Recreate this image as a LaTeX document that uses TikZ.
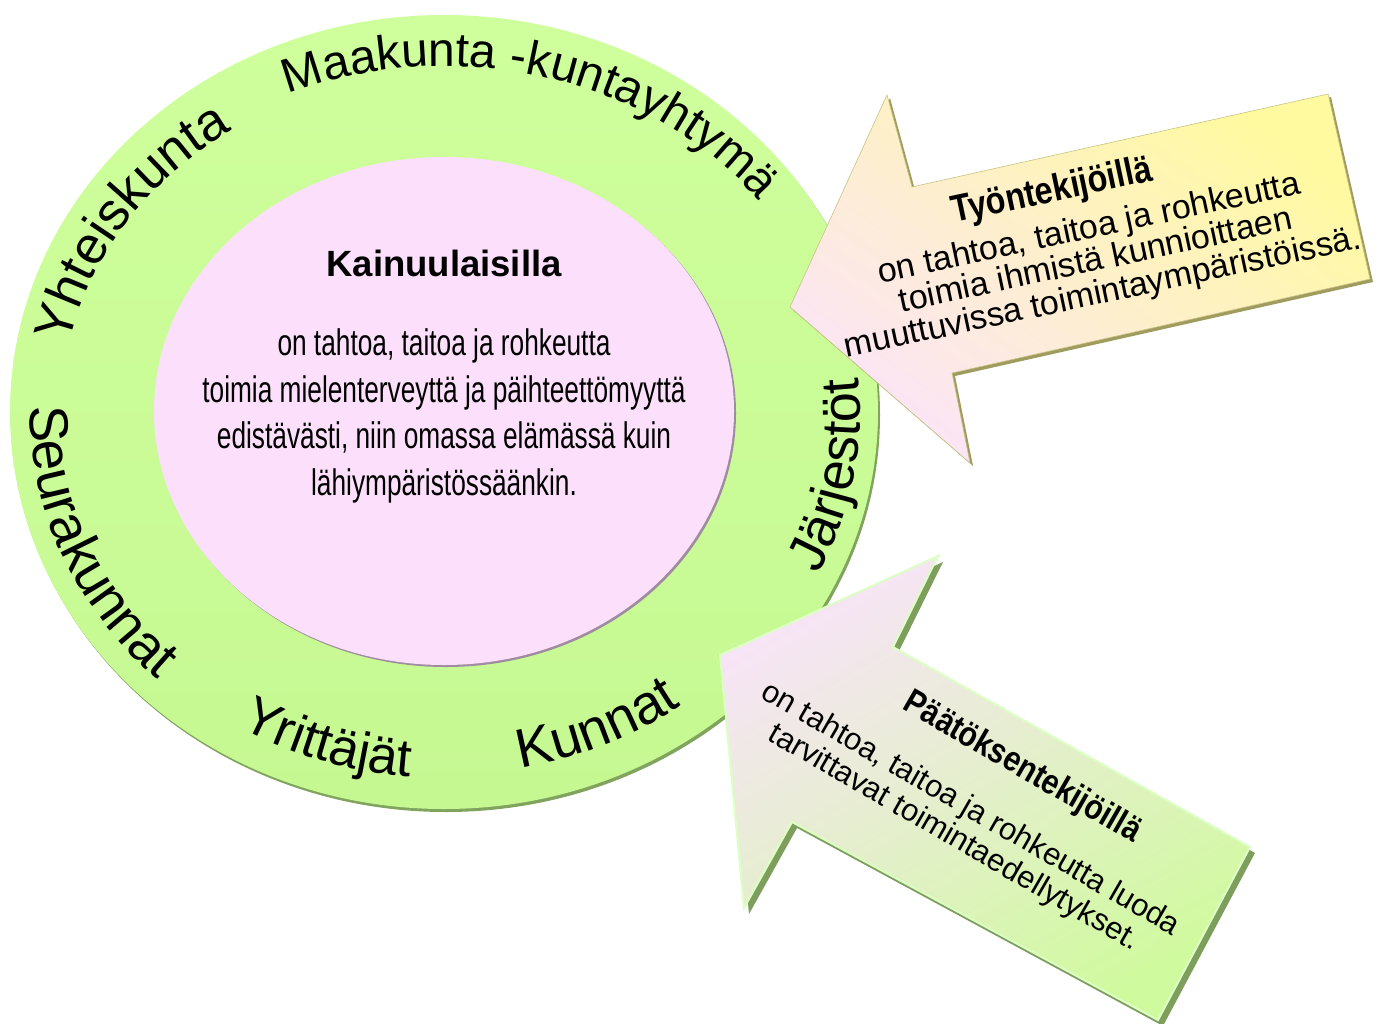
\documentclass[tikz,border=0pt]{standalone}
\usepackage{fontspec}
\setmainfont{Liberation Sans}
\newfontfamily\narrowfont{Liberation Sans}[FakeStretch=0.71]
\newfontfamily\condfont{Liberation Sans}[FakeStretch=0.85]
\usetikzlibrary{decorations.text}
\definecolor{ringtop}{RGB}{206,255,156}
\definecolor{ringbot}{RGB}{198,248,146}
\definecolor{ringshadow}{RGB}{128,163,94}
\definecolor{innerpink}{RGB}{252,224,251}
\definecolor{pinkshadow}{RGB}{160,140,160}
\definecolor{tyellow}{RGB}{255,250,160}
\definecolor{tpeach}{RGB}{253,236,214}
\definecolor{tpink}{RGB}{252,228,248}
\definecolor{tshadow}{RGB}{160,156,96}
\definecolor{tedge}{RGB}{200,196,130}
\definecolor{bpink}{RGB}{247,228,246}
\definecolor{bgreen}{RGB}{208,250,158}
\definecolor{bshadow}{RGB}{126,158,94}
\definecolor{bhl}{RGB}{220,255,196}
\newcommand\ringfont[1]{\fontsize{#1}{#1}\selectfont}
\tikzset{
  ringword/.style 2 args={decorate, decoration={text along path, text align=center, text={|\ringfont{#1}|#2}}},
  innerbody/.style={font=\narrowfont\fontsize{37}{46.5}\selectfont, align=center, inner sep=0},
  arrowbody/.style={font=\fontsize{34}{33}\selectfont, align=center, inner sep=0},
  arrowtitle/.style={font=\condfont\bfseries\fontsize{35}{38}\selectfont, inner sep=0},
}
\begin{document}
\begin{tikzpicture}[x=1pt,y=1pt]
\clip (0,0) rectangle (1381,-1023);
\fill[white] (0,0) rectangle (1381,-1023);

% outer ring
\fill[ringshadow] (446,-415) ellipse[x radius=434, y radius=397];
\shade[top color=ringtop, bottom color=ringbot] (444,-412) ellipse[x radius=434, y radius=397];
% inner ellipse
\fill[pinkshadow] (446,-413) ellipse[x radius=290, y radius=254];
\fill[innerpink] (444,-411) ellipse[x radius=290, y radius=254];

% ring words (clockwise on top, counter-clockwise at bottom)
\path[ringword={48}{Maakunta -kuntayhtymä}] (444,-412) ++(123:398 and 346)
  arc[start angle=123, end angle=27, x radius=398, y radius=346];
\path[ringword={53}{Yhteiskunta}] (444,-412) ++(189:383 and 338)
  arc[start angle=189, end angle=105, x radius=383, y radius=338];
\path[ringword={55}{Seurakunnat}] (444,-412) ++(159:414 and 370)
  arc[start angle=159, end angle=245, x radius=414, y radius=370];
\path[ringword={53}{Yrittäjät}] (444,-412) ++(222:402 and 366)
  arc[start angle=222, end angle=282, x radius=402, y radius=366];
\path[ringword={55}{Kunnat}] (444,-412) ++(264:402 and 363)
  arc[start angle=264, end angle=324, x radius=402, y radius=363];
\path[ringword={54}{Järjestöt}] (444,-412) ++(315:416 and 372)
  arc[start angle=315, end angle=385, x radius=416, y radius=372];

% inner texts
\node[font=\bfseries\fontsize{36.5}{40}\selectfont, inner sep=0] (kain) at (444,-263) {Kainuulaisilla};
\node[innerbody] (kbody) at (444,-416) {on tahtoa, taitoa ja rohkeutta\\
toimia mielenterveyttä ja päihteettömyyttä\\
edistävästi, niin omassa elämässä kuin\\
lähiympäristössäänkin.};

% top arrow
\fill[tshadow, shift={(3,-3)}] (790,-307) -- (887,-95) -- (912,-187) -- (1328,-94) -- (1370,-279) -- (952,-373) -- (970,-463) -- cycle;
\shadedraw[top color=tyellow, middle color=tpeach, bottom color=tpink, shading angle=-35, draw=tedge, line width=0.6]
  (790,-307) -- (887,-95) -- (912,-187) -- (1328,-94) -- (1370,-279) -- (952,-373) -- (970,-463) -- cycle;
\node[arrowtitle, font=\condfont\bfseries\fontsize{38}{40}\selectfont, rotate=12] (ttitle) at (1052,-192) {Työntekijöillä};
\node[arrowbody, rotate=12] (tbody) at (1096,-262) {on tahtoa, taitoa ja rohkeutta\\
toimia ihmistä kunnioittaen\\
muuttuvissa toimintaympäristöissä.};

% bottom arrow
\fill[bshadow, shift={(5,-6)}] (720,-655) -- (938,-556) -- (893,-647) -- (1250,-847) -- (1158,-1020) -- (792,-822) -- (744,-908) -- cycle;
\shadedraw[top color=bpink, bottom color=bgreen, shading angle=30, draw=bhl, line width=2]
  (720,-655) -- (938,-556) -- (893,-647) -- (1250,-847) -- (1158,-1020) -- (792,-822) -- (744,-908) -- cycle;
\node[arrowtitle, rotate=-30] (btitle) at (1022,-768) {Päätöksentekijöillä};
\node[arrowbody, font=\fontsize{31}{33}\selectfont, rotate=-30] (bbody) at (962,-824) {on tahtoa, taitoa ja rohkeutta luoda\\
tarvittavat toimintaedellytykset.};
\end{tikzpicture}
\end{document}
